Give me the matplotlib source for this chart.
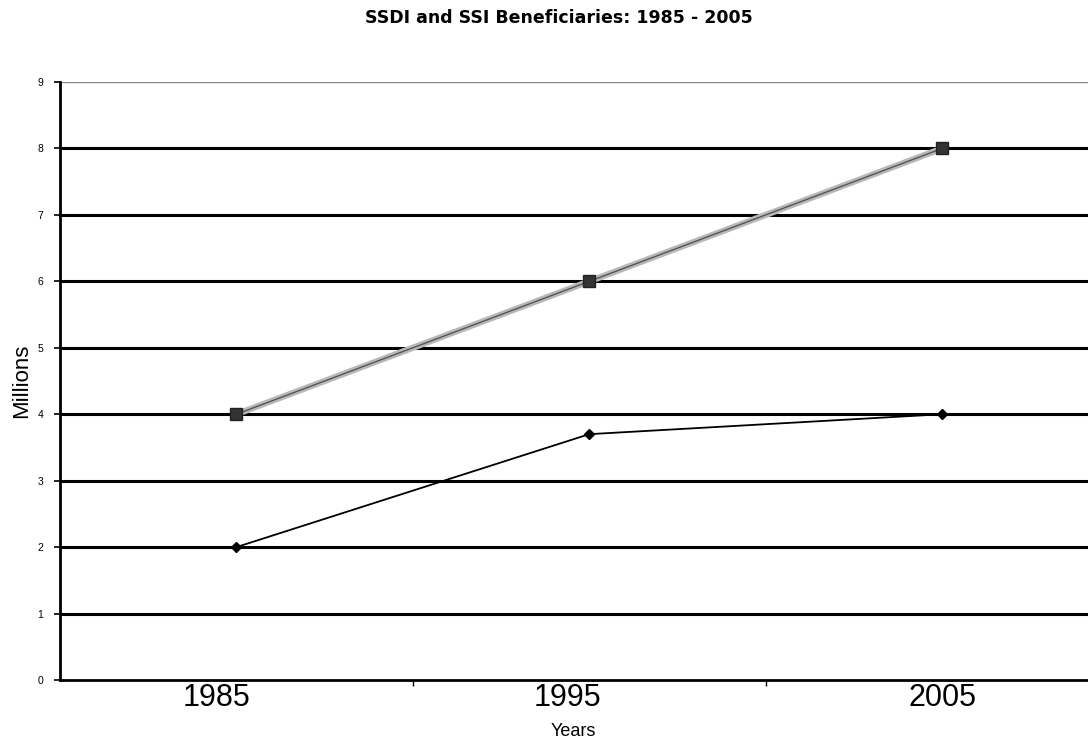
import matplotlib
matplotlib.use("Agg")
import matplotlib.pyplot as plt
from matplotlib.transforms import ScaledTranslation

years = ["1985", "1995", "2005"]
ssdi_ssi_upper = [4, 6, 8]
ssdi_ssi_lower = [2, 3.7, 4]
y_ticks = [0, 1, 2, 3, 4, 5, 6, 7, 8, 9]

plt.rcParams["font.family"] = ["Liberation Sans", "DejaVu Sans"]

fig = plt.figure(figsize=(10.88, 7.43), dpi=100)
ax = fig.add_axes([0.0551, 0.0848, 0.973, 0.8048])

x = [i + 0.5 for i in range(len(years))]

# horizontal gridlines
for v in y_ticks[1:-1]:
    ax.axhline(v, color="black", lw=2.2, zorder=1)
ax.axhline(y_ticks[-1], color="#888888", lw=1.0, zorder=1)

ax.plot(x, ssdi_ssi_upper, color="#b8b8b8", lw=4.5, zorder=3,
        solid_capstyle="round")
ax.plot(x, ssdi_ssi_upper, color="#555555", lw=1.0, zorder=3)
ax.plot(x, ssdi_ssi_upper, ls="none", marker="s", ms=8, mfc="#333333",
        mec="#222222", zorder=4)

ax.plot(x, ssdi_ssi_lower, color="black", lw=1.3, zorder=3)
ax.plot(x, ssdi_ssi_lower, ls="none", marker="D", ms=5.5, mfc="black",
        mec="black", zorder=4)

ax.set_xlim(0, 3)
ax.set_ylim(0, 9)
ax.set_yticks(y_ticks)
ax.set_yticklabels([str(v) for v in y_ticks], fontsize=7.5)
ax.set_xticks(x)
ax.set_xticklabels(years, fontsize=22)
ax.set_xticks([1, 2], minor=True)
ax.tick_params(axis="x", which="major", length=0, pad=2)
ax.tick_params(axis="x", which="minor", length=4, width=1, direction="out")
ax.tick_params(axis="y", length=4, width=1.2, pad=8)

# nudge the year labels to their printed positions
label_shift_px = [-20, -22, 0]
for lbl, dx in zip(ax.get_xticklabels(), label_shift_px):
    lbl.set_transform(lbl.get_transform() +
                      ScaledTranslation(dx / 100, 0, fig.dpi_scale_trans))

for side in ["top", "right"]:
    ax.spines[side].set_visible(False)
ax.spines["left"].set_linewidth(2)
ax.spines["bottom"].set_linewidth(2)

ax.set_ylabel("Millions", fontsize=16, labelpad=4)
fig.text(573 / 1088, 1 - 731 / 743, "Years", ha="center", va="center",
         fontsize=13)

fig.text(559 / 1088, 1 - 18 / 743, "SSDI and SSI Beneficiaries: 1985 - 2005",
         ha="center", va="center", fontsize=12.5, fontweight="bold",
         family=["DejaVu Sans"])

fig.savefig("out.png", dpi=100)
